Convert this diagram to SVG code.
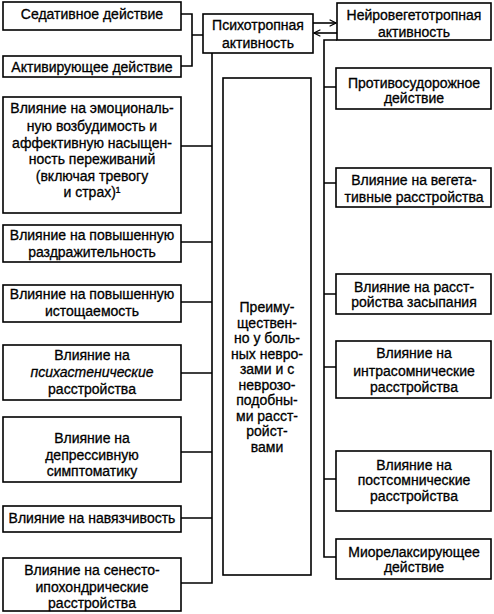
<svg xmlns="http://www.w3.org/2000/svg" width="494" height="614" viewBox="0 0 494 614">
<style>
.b{fill:#fff;stroke:#000;stroke-width:1.6}
.t{font-family:"Liberation Sans",Arial,sans-serif;font-size:14px;fill:#000;stroke:#000;stroke-width:0.3;text-anchor:middle}
.c{fill:none;stroke:#000;stroke-width:1.6}
</style>
<defs>
<marker id="ah" viewBox="0 0 10 10" refX="9" refY="5" markerWidth="8" markerHeight="8" markerUnits="userSpaceOnUse" orient="auto">
<path d="M1,1 L9,5 L1,9" fill="none" stroke="#000" stroke-width="1.5"/>
</marker>
</defs>
<rect width="494" height="614" fill="#fff"/>
<g id="connectors">
<path class="c" d="M181,14 H192 V66 H181 M192,35 H203"/>
<path class="c" d="M212,53 V583 H181 M181,146 H212 M181,242 H212 M181,302 H212 M181,373 H212 M181,452 H212 M181,518 H212"/>
<path class="c" d="M337,40 H324 V557 H336 M324,87 H336 M324,183 H336 M324,294 H336 M324,367 H336 M324,479 H336"/>
<path class="c" d="M313,23 H336" marker-end="url(#ah)"/>
<path class="c" d="M337,33 H314" marker-end="url(#ah)"/>
</g>
<g id="sedative"><rect class="b" x="3" y="2" width="178" height="28"/><text class="t" x="92" y="19">Седативное действие</text></g>
<g id="activating"><rect class="b" x="3" y="56" width="178" height="21"/><text class="t" x="92" y="72">Активирующее действие</text></g>
<g id="emotion"><rect class="b" x="3" y="97" width="178" height="116"/>
<text class="t" x="92" y="113">Влияние на эмоциональ-</text>
<text class="t" x="92" y="131">ную возбудимость и</text>
<text class="t" x="92" y="148">аффективную насыщен-</text>
<text class="t" x="92" y="164">ность переживаний</text>
<text class="t" x="92" y="181">(включая тревогу</text>
<text class="t" x="92" y="197">и страх)¹</text></g>
<g id="irritability"><rect class="b" x="3" y="225" width="178" height="37"/>
<text class="t" x="92" y="240">Влияние на повышенную</text>
<text class="t" x="92" y="257">раздражительность</text></g>
<g id="exhaustion"><rect class="b" x="3" y="285" width="178" height="37"/>
<text class="t" x="92" y="299">Влияние на повышенную</text>
<text class="t" x="92" y="316">истощаемость</text></g>
<g id="psychasthenic"><rect class="b" x="3" y="345" width="178" height="55"/>
<text class="t" x="92" y="360">Влияние на</text>
<text class="t" x="92" y="377" font-style="italic">психастенические</text>
<text class="t" x="92" y="394">расстройства</text></g>
<g id="depressive"><rect class="b" x="3" y="417" width="178" height="65"/>
<text class="t" x="92" y="443">Влияние на</text>
<text class="t" x="92" y="460">депрессивную</text>
<text class="t" x="92" y="476">симптоматику</text></g>
<g id="obsession"><rect class="b" x="3" y="506" width="178" height="26"/>
<text class="t" x="92" y="523">Влияние на навязчивость</text></g>
<g id="senesto"><rect class="b" x="3" y="558" width="178" height="53"/>
<text class="t" x="92" y="575">Влияние на сенесто-</text>
<text class="t" x="92" y="592">ипохондрические</text>
<text class="t" x="92" y="608">расстройства</text></g>
<g id="psychotropic"><rect class="b" x="203" y="14" width="110" height="39"/>
<text class="t" x="258" y="30">Психотропная</text>
<text class="t" x="258" y="48">активность</text></g>
<g id="neurovegetative"><rect class="b" x="337" y="3" width="154" height="37"/>
<text class="t" x="414" y="20">Нейровегетотропная</text>
<text class="t" x="414" y="37">активность</text></g>
<g id="mainly"><rect class="b" x="223" y="78" width="88" height="497"/>
<text class="t" x="267" y="312">Преиму-</text>
<text class="t" x="267" y="327.5">ществен-</text>
<text class="t" x="267" y="343">но у боль-</text>
<text class="t" x="267" y="358.5">ных невро-</text>
<text class="t" x="267" y="374">зами и с</text>
<text class="t" x="267" y="389.5">неврозо-</text>
<text class="t" x="267" y="405">подобны-</text>
<text class="t" x="267" y="420.5">ми расст-</text>
<text class="t" x="267" y="436">ройст-</text>
<text class="t" x="267" y="451.5">вами</text></g>
<g id="anticonvulsant"><rect class="b" x="336" y="68" width="155" height="41"/>
<text class="t" x="414" y="88">Противосудорожное</text>
<text class="t" x="414" y="103">действие</text></g>
<g id="vegetative"><rect class="b" x="336" y="168" width="155" height="39"/>
<text class="t" x="414" y="185">Влияние на вегета-</text>
<text class="t" x="414" y="202">тивные расстройства</text></g>
<g id="sleeponset"><rect class="b" x="336" y="274" width="155" height="40"/>
<text class="t" x="414" y="292">Влияние на расст-</text>
<text class="t" x="414" y="307">ройства засыпания</text></g>
<g id="intrasomnic"><rect class="b" x="336" y="341" width="155" height="57"/>
<text class="t" x="414" y="358">Влияние на</text>
<text class="t" x="414" y="376">интрасомнические</text>
<text class="t" x="414" y="392">расстройства</text></g>
<g id="postsomnic"><rect class="b" x="336" y="451" width="155" height="60"/>
<text class="t" x="414" y="470">Влияние на</text>
<text class="t" x="414" y="485">постсомнические</text>
<text class="t" x="414" y="501">расстройства</text></g>
<g id="musclerelaxant"><rect class="b" x="336" y="539" width="155" height="40"/>
<text class="t" x="414" y="557">Миорелаксирующее</text>
<text class="t" x="414" y="572">действие</text></g>
</svg>
